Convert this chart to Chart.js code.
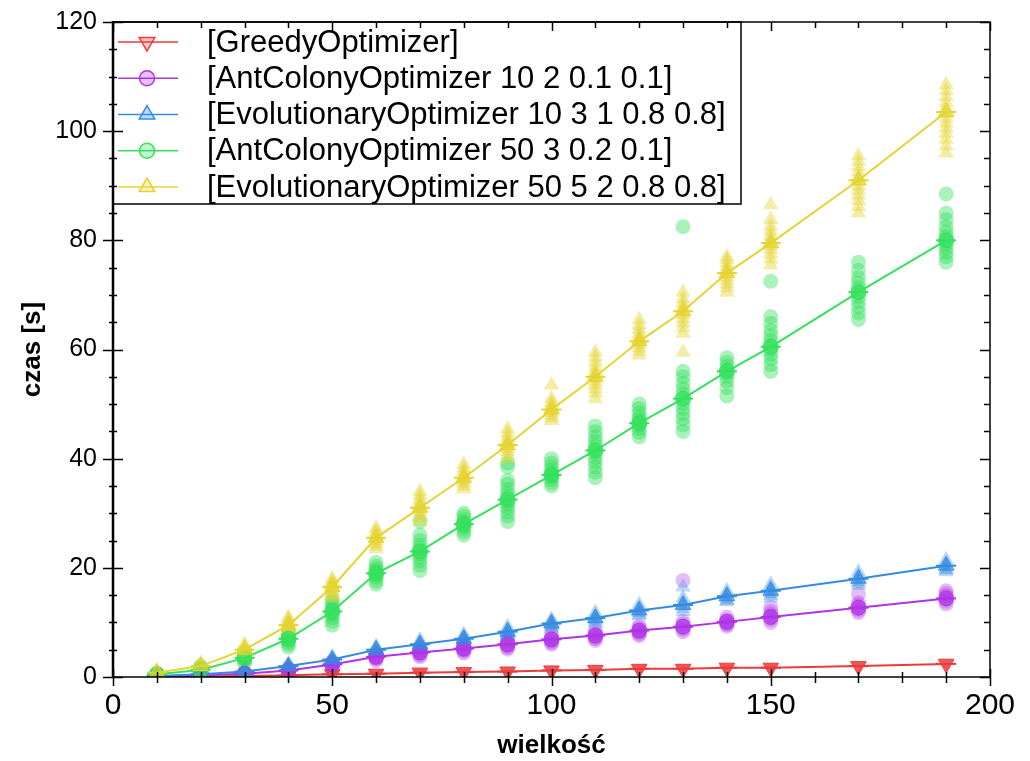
<!DOCTYPE html>
<html><head><meta charset="utf-8">
<script src="https://cdn.jsdelivr.net/npm/chart.js@4.4.1/dist/chart.umd.min.js"></script>
<style>html,body{margin:0;padding:0;background:#fff}</style>
</head><body>
<canvas id="c" width="1030" height="761"></canvas>
<script>
// ---- data ----
const sizes = [10,20,30,40,50,60,70,80,90,100,110,120,130,140,150,170,190];
const seriesNames = [
  "[GreedyOptimizer]",
  "[AntColonyOptimizer 10 2 0.1 0.1]",
  "[EvolutionaryOptimizer 10 3 1 0.8 0.8]",
  "[AntColonyOptimizer 50 3 0.2 0.1]",
  "[EvolutionaryOptimizer 50 5 2 0.8 0.8]"
];
const greedyMean = [0.05,0.1,0.2,0.3,0.5,0.6,0.8,0.9,1.0,1.2,1.3,1.5,1.5,1.7,1.7,2.0,2.4];
const ant10Mean  = [0.1,0.3,0.6,1.2,2.3,3.7,4.5,5.2,6.0,6.9,7.6,8.5,9.2,10.1,11.0,12.7,14.4];
const evo10Mean  = [0.2,0.5,1.0,2.0,3.2,5.0,6.0,7.0,8.3,9.8,10.8,12.2,13.2,14.8,15.8,18.0,20.4];
const ant50Mean  = [0.5,1.3,3.5,7.0,12.0,19.0,23.0,28.0,32.5,37.0,41.5,46.5,51.0,56.0,60.5,70.5,80.0];
const evo50Mean  = [0.8,2.0,5.0,9.5,16.5,25.5,31.0,36.5,42.5,49.0,55.0,61.5,67.0,74.0,79.5,91.0,103.5];

const greedyRuns = [
  [0.03,0.05,0.07],[0.08,0.1,0.12],[0.15,0.2,0.25],[0.25,0.3,0.35],[0.4,0.5,0.6],[0.5,0.6,0.7],
  [0.7,0.8,0.9],[0.8,0.9,1.0],[0.9,1.0,1.1],[1.1,1.2,1.3],[1.2,1.3,1.4],[1.4,1.5,1.6],[1.4,1.5,1.6],
  [1.6,1.7,1.8],[1.6,1.7,1.8],[1.9,2.0,2.1],[2.2,2.4,2.6]
];
const ant10Runs = [
  [0.08,0.1,0.12,0.1,0.09,0.11],[0.2,0.3,0.4,0.3,0.25,0.35],[0.4,0.6,0.8,0.6,0.5,0.7],
  [0.8,1.2,1.6,1.1,1.0,1.4],[1.8,2.3,2.8,2.1,2.0,2.6],[3.0,3.7,4.4,3.5,3.3,4.0],
  [3.7,4.5,5.3,4.3,4.0,4.9],[4.4,5.2,6.0,5.0,4.7,5.6],[5.1,6.0,6.9,5.7,5.4,6.4],
  [6.0,6.9,7.8,6.6,6.3,7.3],[6.7,7.6,8.5,7.3,7.0,8.0],[7.6,8.5,9.4,8.2,7.9,9.0],
  [8.3,9.2,10.2,17.7,8.7,9.7],[9.3,10.1,11.0,9.8,9.6,10.5],[10.0,11.0,12.0,12.8,10.5,11.5],
  [11.8,12.7,13.6,15.2,12.2,13.2],[13.4,14.4,15.3,15.8,13.9,14.9]
];
const evo10Runs = [
  [0.15,0.2,0.25,0.2,0.18,0.22],[0.4,0.5,0.6,0.5,0.45,0.55],[0.8,1.0,1.2,1.0,0.9,1.1],
  [1.6,2.0,2.4,1.9,1.8,2.2],[2.7,3.2,3.7,3.0,2.9,3.4],[4.4,5.0,5.6,4.8,4.6,5.3],
  [5.3,6.0,6.8,5.8,5.6,6.4],[6.3,7.0,7.8,6.9,6.6,7.4],[7.5,8.3,9.2,8.0,7.8,8.7],
  [9.0,9.8,10.6,9.5,9.3,10.2],[9.8,10.8,11.8,10.5,10.2,11.3],[11.2,12.2,13.3,11.8,11.5,12.7],
  [12.0,13.2,14.5,16.5,12.6,13.8],[13.8,14.8,15.8,14.3,14.0,15.3],[14.5,15.8,17.0,15.3,15.0,16.4],
  [16.8,18.0,19.3,17.5,17.2,18.6],[19.3,20.4,21.5,19.8,19.6,20.9]
];
const ant50Runs = [
  [0.3,0.4,0.5,0.6,0.7,0.5,0.45,0.55],
  [0.8,1.0,1.1,1.2,1.3,1.4,1.5,1.7,2.0],
  [2.5,2.9,3.2,3.4,3.5,3.6,3.8,4.1,4.6],
  [5.5,6.0,6.4,6.7,7.0,7.2,7.5,7.9,8.3],
  [9.5,10.2,10.8,11.4,11.8,12.2,12.6,13.1,13.7,14.4],
  [17.0,17.6,18.2,18.7,19.0,19.4,19.8,20.3,21.0],
  [19.5,20.5,21.3,22.0,22.6,23.1,23.6,24.2,25.0,26.0,28.5],
  [26.0,26.6,27.2,27.7,28.0,28.4,28.9,29.5,30.0],
  [28.5,29.5,30.3,31.0,31.7,32.3,32.9,33.6,34.4,35.3,36.0,38.5,39.2],
  [35.0,35.6,36.2,36.7,37.0,37.4,37.9,38.5,39.2,40.0],
  [36.5,37.5,38.5,39.4,40.2,41.0,41.7,42.4,43.2,44.0,45.0,46.0],
  [44.0,44.8,45.5,46.1,46.6,47.1,47.7,48.4,49.2,50.0],
  [45.0,46.2,47.3,48.3,49.2,50.1,51.0,51.9,52.8,53.8,55.0,56.0,82.5],
  [51.5,53.0,54.2,55.0,55.7,56.3,56.9,57.6,58.5],
  [56.0,57.2,58.3,59.2,60.0,60.8,61.6,62.5,63.5,64.8,66.0,72.5],
  [65.5,66.7,67.8,68.8,69.7,70.5,71.3,72.2,73.2,74.5,76.0],
  [76.0,77.0,77.8,78.6,79.3,80.0,80.7,81.5,82.5,83.8,85.0,88.5]
];
const evo50Runs = [
  [0.5,0.6,0.7,0.8,0.9,1.0,1.1],
  [1.5,1.7,1.9,2.0,2.1,2.3,2.5],
  [4.0,4.4,4.7,5.0,5.3,5.6,6.0],
  [8.5,8.9,9.2,9.5,9.8,10.2,10.6,11.0],
  [14.5,15.0,15.5,16.0,16.4,16.8,17.2,17.6,18.0],
  [23.5,24.0,24.5,25.0,25.4,25.8,26.2,26.7,27.3],
  [28.5,29.2,29.8,30.4,31.0,31.5,32.0,32.6,33.3,34.0],
  [34.5,35.0,35.5,36.0,36.4,36.8,37.2,37.7,38.3,39.0],
  [40.0,40.7,41.3,41.9,42.4,42.9,43.4,44.0,44.7,45.5],
  [47.0,47.5,48.0,48.5,48.9,49.3,49.8,50.3,51.0,53.5],
  [51.0,52.0,52.8,53.5,54.2,54.8,55.4,56.0,56.8,57.7,58.6,59.5],
  [59.0,59.7,60.3,60.9,61.4,61.9,62.4,63.0,63.7,64.5,65.5],
  [59.5,63.0,64.0,64.9,65.7,66.4,67.1,67.8,68.5,69.3,70.5],
  [70.5,71.3,72.0,72.7,73.3,73.9,74.5,75.1,75.8,76.5,77.0],
  [75.5,76.6,77.5,78.3,79.0,79.6,80.2,80.9,81.7,82.6,83.8,86.5],
  [85.0,86.2,87.3,88.3,89.2,90.0,90.8,91.6,92.5,93.5,94.5,95.5],
  [96.0,97.3,98.5,99.6,100.6,101.5,102.4,103.3,104.2,105.2,106.3,107.4,108.5]
];
const xTickValues = [0,50,100,150,200];
const yTickValues = [0,20,40,60,80,100,120];

// ---- styling ----
const rgb = [[235,60,60],[176,52,230],[52,140,226],[52,225,92],[228,212,48]];
const runAlpha = [0.3, 0.32, 0.32, 0.42, 0.42];
const styles = [
  {pointStyle:'triangle', rotation:180, r:9},
  {pointStyle:'circle', rotation:0, r:7.5},
  {pointStyle:'triangle', rotation:0, r:9},
  {pointStyle:'circle', rotation:0, r:7.5},
  {pointStyle:'triangle', rotation:0, r:9}
];
const c = (i,a) => `rgba(${rgb[i][0]},${rgb[i][1]},${rgb[i][2]},${a})`;
const means = [greedyMean, ant10Mean, evo10Mean, ant50Mean, evo50Mean];
const runs = [greedyRuns, ant10Runs, evo10Runs, ant50Runs, evo50Runs];

const datasets = [];
for (let i = 0; i < 5; i++) {
  const pts = [];
  sizes.forEach((s, k) => runs[i][k].forEach(v => pts.push({x: s, y: v})));
  datasets.push({
    label: seriesNames[i] + ' runs', data: pts, showLine: false, order: 20 - i,
    pointStyle: styles[i].pointStyle, rotation: styles[i].rotation, pointRadius: styles[i].r,
    pointBackgroundColor: c(i, runAlpha[i]), pointBorderColor: c(i, 0.0), pointBorderWidth: 0
  });
}
for (let i = 0; i < 5; i++) {
  const pts = sizes.map((s, k) => ({x: s, y: means[i][k]}));
  datasets.push({
    label: seriesNames[i], data: pts, order: 10 - i,
    borderColor: c(i, 1), borderWidth: 2, tension: 0,
    pointStyle: styles[i].pointStyle, rotation: styles[i].rotation, pointRadius: styles[i].r,
    pointBackgroundColor: c(i, 0.6), pointBorderColor: c(i, 0.9), pointBorderWidth: 1
  });
  datasets.push({
    label: seriesNames[i] + ' mean', data: pts, showLine: false, order: 10 - i,
    pointStyle: 'line', pointRadius: 10, pointBorderColor: c(i, 1), pointBorderWidth: 2
  });
}

const framePlugin = {
  id: 'frameLegend',
  afterDraw(chart) {
    const ctx = chart.ctx, a = chart.chartArea;
    const xs = chart.scales.x, ys = chart.scales.y;
    ctx.save();
    // legend
    const lx = a.left, ly = a.top, lw = 628, lh = 182;
    ctx.fillStyle = '#fff'; ctx.fillRect(lx, ly, lw, lh);
    ctx.strokeStyle = '#000'; ctx.lineWidth = 1.5; ctx.strokeRect(lx, ly, lw, lh);
    for (let i = 0; i < 5; i++) {
      const cy = ly + 20 + i * 36.25;
      ctx.strokeStyle = c(i, 1); ctx.lineWidth = 1.5;
      ctx.beginPath(); ctx.moveTo(lx + 5, cy); ctx.lineTo(lx + 65, cy); ctx.stroke();
      ctx.fillStyle = c(i, 0.3); ctx.strokeStyle = c(i, 1);
      Chart.helpers.drawPoint(ctx, {pointStyle: styles[i].pointStyle, rotation: styles[i].rotation,
        radius: styles[i].r, borderWidth: 1}, lx + 34, cy);
      ctx.fillStyle = '#000'; ctx.font = '31px "Liberation Sans", Arial, sans-serif';
      ctx.textBaseline = 'middle'; ctx.textAlign = 'left';
      ctx.fillText(seriesNames[i], lx + 94, cy + 1);
    }
    // frame
    ctx.strokeStyle = '#000';
    ctx.lineWidth = 1.5;
    ctx.strokeRect(a.left, a.top, a.right - a.left, a.bottom - a.top);
    ctx.lineWidth = 2.5;
    ctx.beginPath(); ctx.moveTo(a.left, a.top - 1); ctx.lineTo(a.left, a.bottom + 1); ctx.stroke();
    // ticks
    ctx.lineWidth = 1.5;
    ctx.beginPath();
    for (let v = 0; v <= 120; v += 5) {
      const y = Math.round(ys.getPixelForValue(v)) + 0.5;
      const major = v % 20 === 0;
      ctx.moveTo(a.left - (major ? 10 : 4), y); ctx.lineTo(a.left + (major ? 10 : 4), y);
      ctx.moveTo(a.right, y); ctx.lineTo(a.right - (major ? 10 : 6), y);
    }
    for (let v = 0; v <= 200; v += 10) {
      const x = Math.round(xs.getPixelForValue(v)) + 0.5;
      const major = v % 50 === 0;
      ctx.moveTo(x, a.bottom - (major ? 8 : 5)); ctx.lineTo(x, a.bottom + (major ? 9 : 6));
      ctx.moveTo(x, a.top); ctx.lineTo(x, a.top + (major ? 9 : 6));
    }
    ctx.stroke();
    ctx.restore();
  }
};

const fontFam = '"Liberation Sans", Arial, sans-serif';
new Chart(document.getElementById('c'), {
  type: 'line',
  data: { datasets },
  options: {
    responsive: false, animation: false, devicePixelRatio: 1,
    layout: { padding: { top: 22, right: 40, left: 0, bottom: 0 } },
    plugins: { legend: { display: false }, tooltip: { enabled: false } },
    scales: {
      x: {
        type: 'linear', min: 0, max: 200,
        afterFit: s => { s.height = 84; s.paddingLeft = 0; s.paddingRight = 0; },
        afterBuildTicks: s => { s.ticks = xTickValues.map(v => ({value: v})); },
        grid: { display: false, drawTicks: false }, border: { display: false },
        ticks: { color: '#000', padding: 11, font: { family: fontFam, size: 30 } },
        title: { display: true, text: 'wielkość', color: '#000', padding: { top: 0, bottom: 0 },
          font: { family: fontFam, size: 26, weight: 'bold' } }
      },
      y: {
        type: 'linear', min: 0, max: 120,
        afterFit: s => { s.width = 113; s.paddingTop = 0; s.paddingBottom = 0; },
        afterBuildTicks: s => { s.ticks = yTickValues.map(v => ({value: v})); },
        grid: { display: false, drawTicks: false }, border: { display: false },
        ticks: { color: '#000', padding: 16, font: { family: fontFam, size: 25 } },
        title: { display: true, text: 'czas [s]', color: '#000', padding: { top: 17, bottom: 0 },
          font: { family: fontFam, size: 26, weight: 'bold' } }
      }
    }
  },
  plugins: [framePlugin]
});
</script>
</body></html>
